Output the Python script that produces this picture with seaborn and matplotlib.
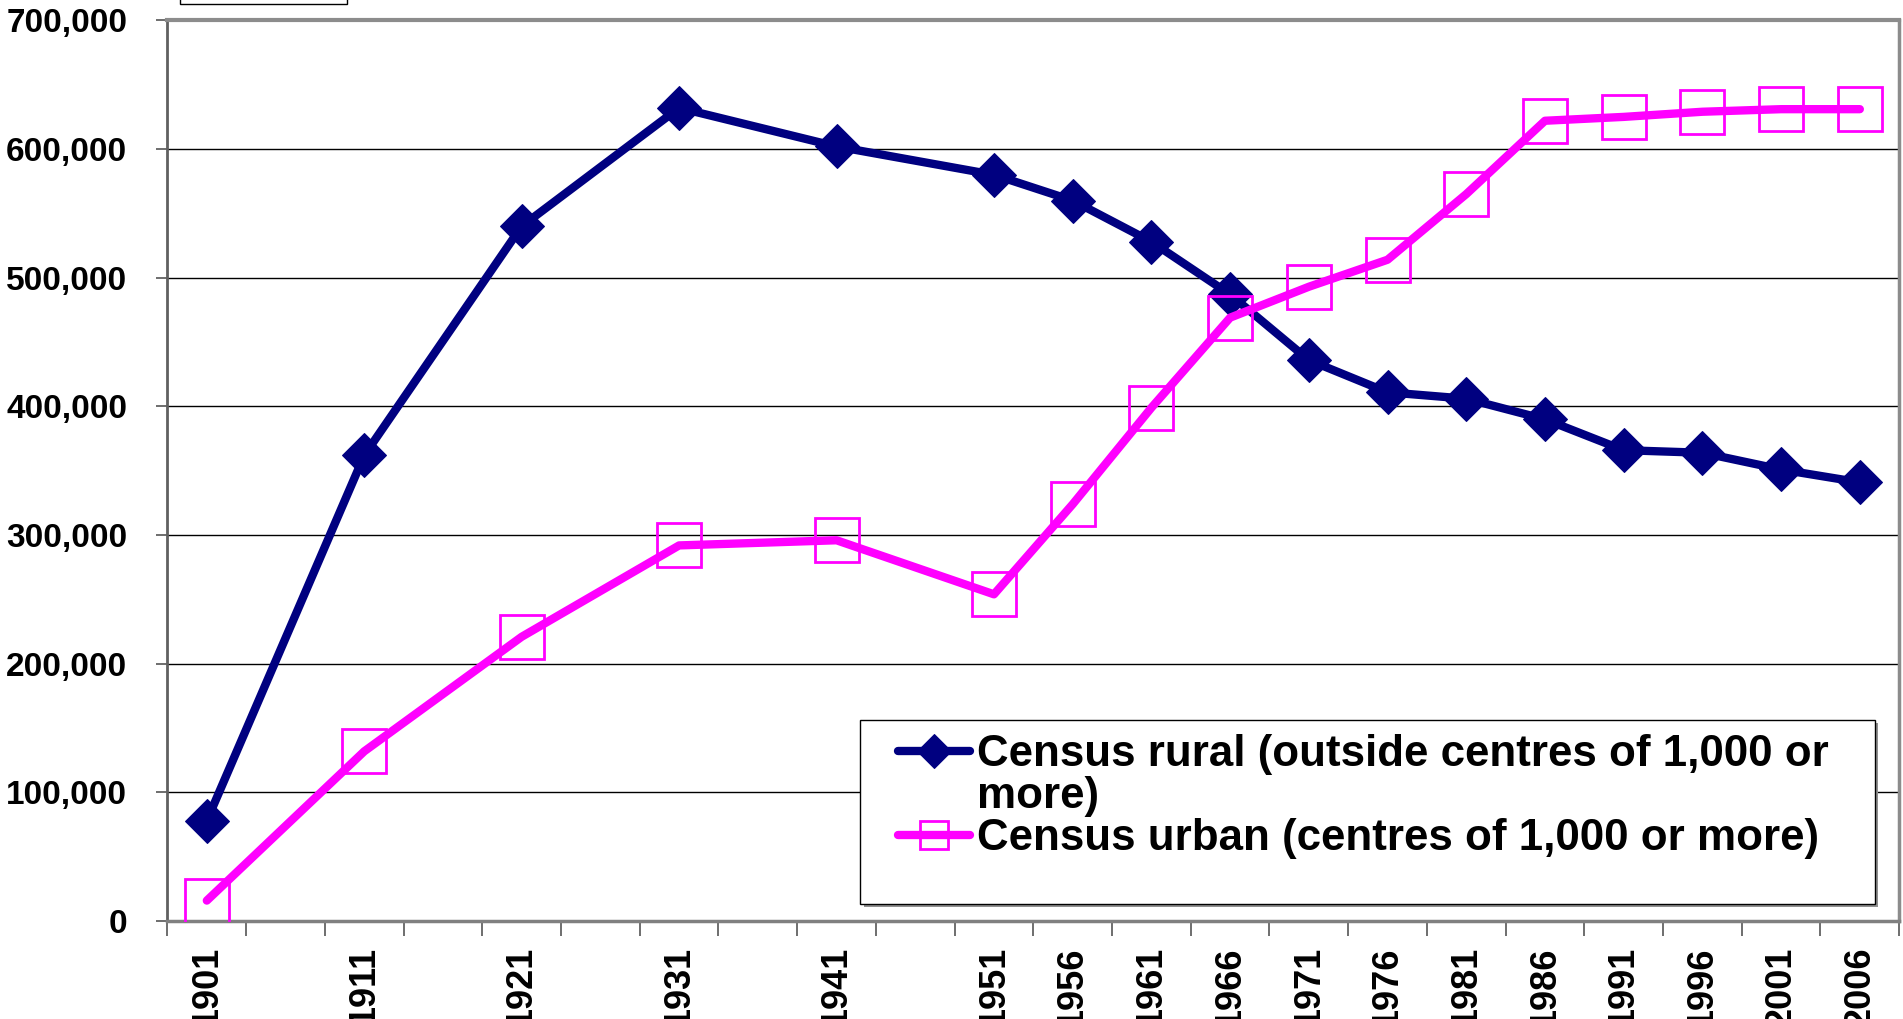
import numpy as np
import pandas as pd
import matplotlib
matplotlib.use("Agg")
import matplotlib.pyplot as plt
import matplotlib.ticker as mticker
from matplotlib.lines import Line2D
from matplotlib.patches import Rectangle
import seaborn as sns

# census years and population values
years = [1901, 1911, 1921, 1931, 1941, 1951, 1956, 1961, 1966,
         1971, 1976, 1981, 1986, 1991, 1996, 2001, 2006]
rural = [78000, 362000, 540000, 632000, 602000, 580000, 560000, 528000, 487000,
         436000, 411000, 406000, 390000, 366000, 364000, 351000, 341000]
urban = [16000, 132000, 221000, 292000, 296000, 254000, 324000, 399000, 469000,
         493000, 514000, 565000, 622000, 625000, 629000, 631000, 631000]

rural_label = "Census rural (outside centres of 1,000 or more)"
urban_label = "Census urban (centres of 1,000 or more)"
y_ticks = [0, 100000, 200000, 300000, 400000, 500000, 600000, 700000]

df = pd.DataFrame({"year": years, "rural": rural, "urban": urban})

sns.set_style("white")
plt.rcParams["font.family"] = ["Liberation Sans", "DejaVu Sans"]
plt.rcParams["font.weight"] = "bold"
plt.rcParams["text.color"] = "black"
plt.rcParams["xtick.color"] = "black"
plt.rcParams["ytick.color"] = "black"

fig = plt.figure(figsize=(19.03, 10.19), dpi=100)
ax = fig.add_axes([0.088, 0.096, 0.91, 0.884])

# Census rural: navy line with filled diamonds
sns.lineplot(data=df, x="year", y="rural", ax=ax, color="#000080", linewidth=6,
             marker="D", markersize=22, markerfacecolor="#000080",
             markeredgecolor="#000080", label=rural_label, zorder=3)
# Census urban: magenta line with open squares
sns.lineplot(data=df, x="year", y="urban", ax=ax, color="#FF00FF", linewidth=6,
             marker="s", markersize=31, markerfacecolor="none",
             markeredgecolor="#FF00FF", markeredgewidth=2, label=urban_label, zorder=4)

ax.set_xlim(1898.5, 2008.5)
ax.set_ylim(0, 700000)
ax.set_xlabel("")
ax.set_ylabel("")

# x axis: labels at census years, tick marks between the 5-year slots
ax.set_xticks(years)
ax.set_xticklabels([str(y) for y in years], rotation=90, fontsize=26, fontweight="bold")
ax.set_xticks(np.arange(1898.5, 2009, 5), minor=True)
ax.tick_params(axis="x", which="major", length=0, pad=18, labelcolor="black")
ax.tick_params(axis="x", which="minor", length=11, width=1.2, color="#555555",
               direction="out", bottom=True)

ax.set_yticks(y_ticks)
ax.yaxis.set_major_formatter(mticker.FuncFormatter(lambda v, p: f"{int(v):,}"))
ax.tick_params(axis="y", which="major", length=8, width=1.2, color="#555555",
               labelsize=24, pad=21, left=True, labelcolor="black")
for lab in ax.get_yticklabels():
    lab.set_fontweight("bold")

ax.grid(axis="y", color="black", linewidth=1)
ax.grid(axis="x", visible=False)
ax.set_axisbelow(True)

ax.spines["left"].set_color("#606060")
ax.spines["left"].set_linewidth(2)
ax.spines["bottom"].set_color("#808080")
ax.spines["bottom"].set_linewidth(2.5)
ax.spines["top"].set_color("#8c8c8c")
ax.spines["top"].set_linewidth(3)
ax.spines["right"].set_color("#8c8c8c")
ax.spines["right"].set_linewidth(2.5)

# legend box with shadow
ax.add_patch(Rectangle((0.402, 0.016), 0.586, 0.204, transform=ax.transAxes,
                       facecolor="#909090", edgecolor="none", zorder=5))
ax.add_patch(Rectangle((0.400, 0.019), 0.586, 0.204, transform=ax.transAxes,
                       facecolor="white", edgecolor="black", linewidth=1, zorder=6))

lines = ax.get_lines()
handles = [lines[0], Line2D([], [], color="none"), lines[1]]
first, second = rural_label.rsplit(" ", 1)
labels = [first, second, urban_label]
leg = ax.legend(handles, labels, loc="upper left", bbox_to_anchor=(0.409, 0.232),
                frameon=False, labelspacing=0.02, handlelength=1.65,
                handletextpad=0.15, borderpad=0,
                prop={"weight": "bold", "size": 31.6})
leg.set_zorder(7)
leg_handles = leg.legend_handles
leg_handles[0].set_markersize(17)
leg_handles[2].set_markersize(20)

# small box cut off at the top edge
fig.patches.append(Rectangle((0.0946, 0.9958), 0.0878, 0.03, transform=fig.transFigure,
                             facecolor="white", edgecolor="black", linewidth=1))

fig.savefig("out.png", dpi=100)
